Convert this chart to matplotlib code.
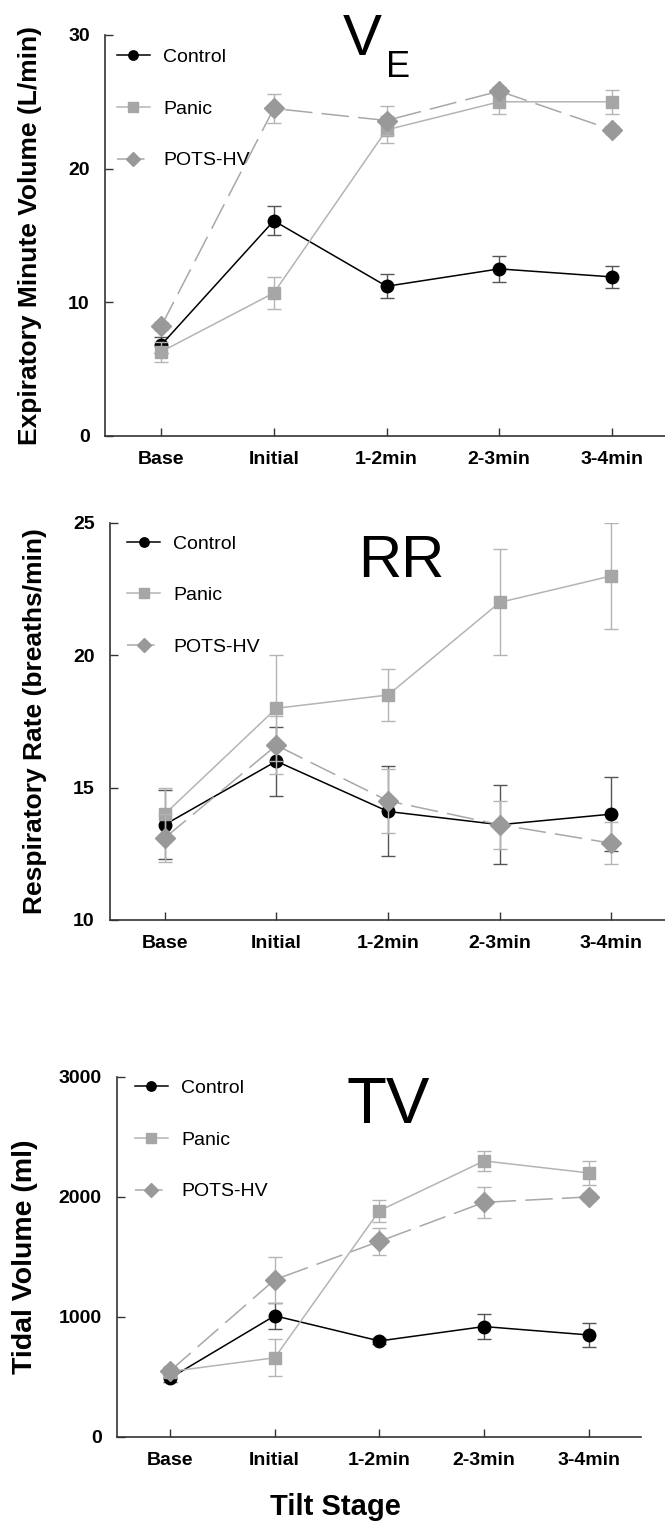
import matplotlib
matplotlib.use("Agg")
import matplotlib.pyplot as plt

plt.rcParams['font.family'] = ['Liberation Sans', 'DejaVu Sans']

stages = ['Base', 'Initial', '1-2min', '2-3min', '3-4min']
groups = ['Control', 'Panic', 'POTS-HV']

# Expiratory minute volume (L/min)
ve_control = [6.8, 16.1, 11.2, 12.5, 11.9]
ve_control_err = [0.6, 1.1, 0.9, 1.0, 0.8]
ve_panic = [6.3, 10.7, 22.9, 25.0, 25.0]
ve_panic_err = [0.75, 1.2, 1.0, 0.9, 0.9]
ve_pots = [8.2, 24.5, 23.6, 25.8, 22.9]
ve_pots_err = [0.3, 1.05, 1.1, 0.3, 0.3]

# Respiratory rate (breaths/min)
rr_control = [13.6, 16.0, 14.1, 13.6, 14.0]
rr_control_err = [1.3, 1.3, 1.7, 1.5, 1.4]
rr_panic = [14.0, 18.0, 18.5, 22.0, 23.0]
rr_panic_err = [1.0, 2.0, 1.0, 2.0, 2.0]
rr_pots = [13.1, 16.6, 14.5, 13.6, 12.9]
rr_pots_err = [0.9, 1.1, 1.2, 0.9, 0.8]

# Tidal volume (ml)
tv_control = [490, 1010, 800, 920, 850]
tv_control_err = [30, 110, 25, 105, 100]
tv_panic = [545, 660, 1885, 2300, 2200]
tv_panic_err = [30, 155, 90, 80, 100]
tv_pots = [550, 1310, 1630, 1955, 2000]
tv_pots_err = [30, 190, 115, 130, 30]

# 样式
styles = {
    'Control': dict(color='black', marker='o', ms=9, ls='-', ecolor='#555555'),
    'Panic': dict(color='#b4b4b4', marker='s', ms=9, ls='-', ecolor='#b4b4b4', mfc='#a6a6a6', mec='#a6a6a6'),
    'POTS-HV': dict(color='#a8a8a8', marker='D', ms=10, ls=(0, (18, 6)), ecolor='#b4b4b4', mfc='#999999', mec='#999999'),
}


def draw_panel(ax, series, errs, yticks, ylabel, xlim, ysize):
    x = list(range(len(stages)))
    for name, y, e in zip(groups, series, errs):
        st = styles[name]
        ax.errorbar(x, y, yerr=e, fmt='none', ecolor=st['ecolor'], elinewidth=1, capsize=5, capthick=1)
        ax.plot(x, y, color=st['color'], linestyle=st['ls'], linewidth=1.1,
                marker=st['marker'], markersize=st['ms'],
                markerfacecolor=st.get('mfc', st['color']), markeredgecolor=st.get('mec', st['color']),
                label=name)
    ax.set_xlim(*xlim)
    ax.set_ylim(yticks[0], yticks[-1])
    ax.set_yticks(yticks)
    ax.set_xticks(x)
    ax.set_xticklabels(stages)
    for s in ['top', 'right']:
        ax.spines[s].set_visible(False)
    for s in ['left', 'bottom']:
        ax.spines[s].set_color('#333333')
        ax.spines[s].set_linewidth(1.2)
    ax.tick_params(axis='both', direction='in', length=6, width=1, color='#333333')
    ax.tick_params(axis='y', pad=11)
    ax.tick_params(axis='x', pad=11)
    for lab in ax.get_xticklabels() + ax.get_yticklabels():
        lab.set_fontsize(14)
        lab.set_fontweight('bold')
    ax.set_ylabel(ylabel, fontsize=ysize, fontweight='bold')


fig = plt.figure(figsize=(6.65, 15.4), dpi=100)

ax1 = fig.add_axes([0.158, 0.7169, 0.842, 0.2604])
draw_panel(ax1, [ve_control, ve_panic, ve_pots], [ve_control_err, ve_panic_err, ve_pots_err],
           [0, 10, 20, 30], 'Expiratory Minute Volume (L/min)', (-0.497, 4.47), 19)
ax1.yaxis.set_label_coords(-0.113, 0.5)

ax2 = fig.add_axes([0.1654, 0.4026, 0.8346, 0.2578])
draw_panel(ax2, [rr_control, rr_panic, rr_pots], [rr_control_err, rr_panic_err, rr_pots_err],
           [10, 15, 20, 25], 'Respiratory Rate (breaths/min)', (-0.49, 4.48), 19)
ax2.yaxis.set_label_coords(-0.114, 0.5)

ax3 = fig.add_axes([0.176, 0.0669, 0.788, 0.2338])
draw_panel(ax3, [tv_control, tv_panic, tv_pots], [tv_control_err, tv_panic_err, tv_pots_err],
           [0, 1000, 2000, 3000], 'Tidal Volume (ml)', (-0.506, 4.5), 20.5)
ax3.yaxis.set_label_coords(-0.151, 0.5)

# 图例
for ax, anchor in [(ax1, (0.021, 0.966)), (ax2, (0.031, 0.97)), (ax3, (0.034, 0.993))]:
    ax.legend(loc='upper left', bbox_to_anchor=anchor, frameon=False, fontsize=14,
              labelspacing=1.75, handlelength=1.7, handletextpad=0.67,
              borderpad=0, borderaxespad=0, markerscale=0.75)

# 标题
fig.text(343 / 665, 1 - 55 / 1540, 'V', fontsize=42, va='baseline', ha='left')
fig.text(386 / 665, 1 - 77 / 1540, 'E', fontsize=26, va='baseline', ha='left')
fig.text(358 / 665, 1 - 577 / 1540, 'RR', fontsize=43, va='baseline', ha='left')
fig.text(346 / 665, 1 - 1123 / 1540, 'TV', fontsize=47, va='baseline', ha='left')

fig.text(335 / 665, 1 - 1507 / 1540, 'Tilt Stage', fontsize=21, fontweight='bold', ha='center', va='center')

fig.savefig('out.png', dpi=100)
